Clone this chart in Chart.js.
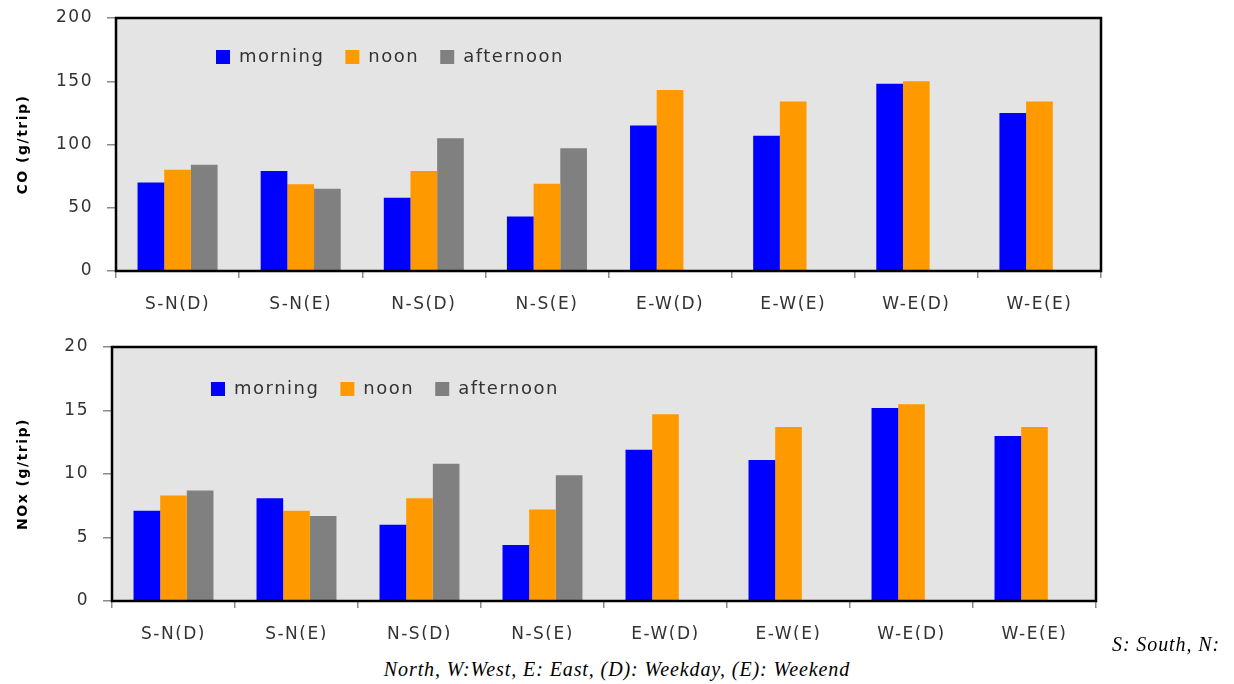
<!DOCTYPE html>
<html>
<head>
<meta charset="utf-8">
<script src="https://cdn.jsdelivr.net/npm/chart.js@4.4.1/dist/chart.umd.min.js"></script>
<style>
  html, body { margin: 0; padding: 0; background: #fff; }
  body { width: 1234px; height: 684px; position: relative; overflow: hidden; }
  .panel { position: absolute; left: 0; }
  .note {
    position: absolute;
    font-family: "Liberation Serif", "Times New Roman", serif;
    font-style: italic;
    font-size: 20px;
    letter-spacing: 0.9px;
    color: #000;
    white-space: nowrap;
  }
</style>
</head>
<body>
<div class="panel" style="top:0px"><canvas id="coChart" width="1234" height="330"></canvas></div>
<div class="panel" style="top:330px"><canvas id="noxChart" width="1234" height="310"></canvas></div>
<div class="note" style="left:1112px; top:633px;">S: South, N:</div>
<div class="note" style="left:0; width:1234px; text-align:center; top:658px;">North, W:West, E: East, (D): Weekday, (E): Weekend</div>

<script>
// Routes and time-of-day groups
const routes = ['S-N(D)', 'S-N(E)', 'N-S(D)', 'N-S(E)', 'E-W(D)', 'E-W(E)', 'W-E(D)', 'W-E(E)'];
const periods = ['morning', 'noon', 'afternoon'];

// CO emission per trip (g/trip)
const coMorning   = [70, 79, 58, 43, 115, 107, 148, 125];
const coNoon      = [80, 68.5, 79, 69, 143, 134, 150, 134];
const coAfternoon = [84, 65, 105, 97, null, null, null, null];

// NOx emission per trip (g/trip)
const noxMorning   = [7.1, 8.1, 6.0, 4.4, 11.9, 11.1, 15.2, 13.0];
const noxNoon      = [8.3, 7.1, 8.1, 7.2, 14.7, 13.7, 15.5, 13.7];
const noxAfternoon = [8.7, 6.7, 10.8, 9.9, null, null, null, null];

// Y axis ranges and tick steps
const coTicks  = { max: 200, step: 50 };
const noxTicks = { max: 20, step: 5 };

const periodColors = ['#0000FF', '#FF9900', '#808080'];

Chart.defaults.font.family = '"DejaVu Sans", Verdana, sans-serif';

// Wide-looking labels: a little tracking on every text drawn into the canvas
const tracking = {
  id: 'tracking',
  beforeUpdate(chart) { chart.ctx.letterSpacing = '1.5px'; },
  beforeDraw(chart) { chart.ctx.letterSpacing = '1.5px'; }
};

// Grey plot background and black frame around the plot area
const plotFrame = {
  id: 'plotFrame',
  beforeDraw(chart) {
    const { ctx, chartArea: a } = chart;
    ctx.save();
    ctx.fillStyle = '#E4E4E4';
    ctx.fillRect(a.left, a.top, a.right - a.left, a.bottom - a.top);
    ctx.restore();
  },
  afterDatasetsDraw(chart) {
    const { ctx, chartArea: a } = chart;
    ctx.save();
    ctx.strokeStyle = '#000';
    ctx.lineWidth = 2.5;
    ctx.strokeRect(a.left, a.top, a.right - a.left, a.bottom - a.top);
    ctx.restore();
  }
};

// Places the legend inside the plot area, near its upper left
const innerLegend = {
  id: 'innerLegend',
  afterLayout(chart, args, opts) {
    const lg = chart.legend;
    if (!lg) return;
    const x = chart.chartArea.left + opts.dx;
    const y = chart.chartArea.top + opts.dy;
    lg.left = x; lg.top = y;
    lg.width = 700; lg.height = 60;
    lg.right = x + 700; lg.bottom = y + 60;
    if (lg.adjustHitBoxes) lg.adjustHitBoxes();
  }
};

function makeChart(id, series, ticks, yTitle, geom) {
  const W = 1234;
  const datasets = periods.map((p, i) => ({
    label: p,
    data: series[i],
    backgroundColor: periodColors[i],
    borderWidth: 0,
    categoryPercentage: 0.65,
    barPercentage: 1.0
  }));
  return new Chart(document.getElementById(id), {
    type: 'bar',
    data: { labels: routes, datasets },
    plugins: [tracking, plotFrame, innerLegend],
    options: {
      responsive: false,
      animation: false,
      events: [],
      layout: { padding: { left: 0, top: geom.top, right: W - geom.right, bottom: 0 } },
      plugins: {
        tooltip: { enabled: false },
        legend: {
          position: 'top',
          align: 'start',
          maxHeight: 0.001,
          labels: {
            boxWidth: 14,
            boxHeight: 14,
            padding: 21,
            color: '#333333',
            font: { size: 18 }
          }
        },
        innerLegend: { dx: geom.legDx, dy: geom.legDy }
      },
      scales: {
        x: {
          grid: {
            display: true,
            drawOnChartArea: false,
            drawTicks: true,
            tickLength: 7,
            color: '#8A8A8A',
            lineWidth: 1.5,
            offset: true
          },
          border: { display: false },
          ticks: { color: '#333333', font: { size: 17 }, padding: 16, maxRotation: 0, autoSkip: false },
          afterFit(scale) { scale.height = geom.xAxisH; }
        },
        y: {
          min: 0,
          max: ticks.max,
          grid: {
            display: true,
            drawOnChartArea: false,
            drawTicks: true,
            tickLength: 9,
            color: '#8A8A8A',
            lineWidth: 1.5
          },
          border: { display: false },
          ticks: { stepSize: ticks.step, color: '#333333', font: { size: 17 }, padding: 14 },
          title: {
            display: true,
            text: yTitle,
            color: '#000',
            font: { size: 14, weight: 'bold' },
            padding: { top: 15, bottom: 0 }
          },
          afterFit(scale) {
            scale.width = geom.left;
            // the outer labels may overhang; the plot area position is set by padding
            scale.paddingTop = 0;
            scale.paddingBottom = 0;
          }
        }
      }
    }
  });
}

makeChart('coChart', [coMorning, coNoon, coAfternoon], coTicks, 'CO (g/trip)',
  { left: 116, right: 1101, top: 18, xAxisH: 59, legDx: 79, legDy: 9 });

makeChart('noxChart', [noxMorning, noxNoon, noxAfternoon], noxTicks, 'NOx (g/trip)',
  { left: 112, right: 1096, top: 17, xAxisH: 39, legDx: 78, legDy: 12 });
</script>
</body>
</html>
